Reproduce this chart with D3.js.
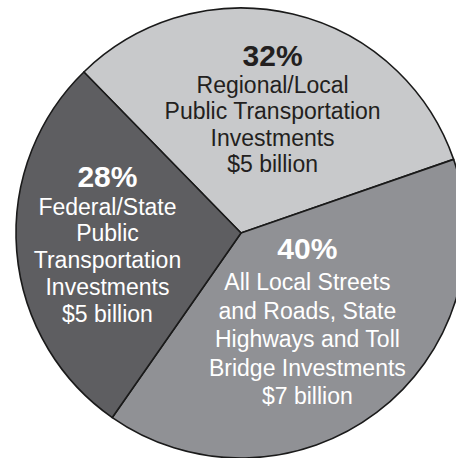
<!DOCTYPE html>
<html>
<head>
<meta charset="utf-8">
<script src="https://cdn.jsdelivr.net/npm/d3@7"></script>
<style>
  body { margin: 0; background: #fff; }
  svg { display: block; }
  text { font-family: "Liberation Sans", Arial, sans-serif; }
</style>
</head>
<body>
<svg id="pie" width="456" height="458"></svg>
<script>
// chart data
const shares = [32, 40, 28];
const amounts = ["$5 billion", "$7 billion", "$5 billion"];
const descriptions = [
    ["Regional/Local", "Public Transportation", "Investments"],
    ["All Local Streets", "and Roads, State", "Highways and Toll", "Bridge Investments"],
    ["Federal/State", "Public", "Transportation", "Investments"]
];

const fills = ["#c8c9cb", "#909195", "#5e5e61"];
const textColors = ["#231f20", "#ffffff", "#ffffff"];

const svg = d3.select("#pie");
const cx = 241, cy = 233, radius = 225;

const startA = -44.3 * Math.PI / 180;
const pie = d3.pie().sort(null).value(d => d)
    .startAngle(startA).endAngle(startA + 2 * Math.PI);
const arcs = pie(shares);

const arc = d3.arc().innerRadius(0).outerRadius(radius);

const g = svg.append("g").attr("transform", `translate(${cx},${cy})`);

g.selectAll("path.slice")
    .data(arcs)
    .join("path")
    .attr("class", "slice")
    .attr("d", arc)
    .attr("fill", (d, i) => fills[i])
    .attr("stroke", "#1a1a1a")
    .attr("stroke-width", 1.6)
    .attr("stroke-linejoin", "round");

// label placement: centroid on an inner ring, small nudges, line spacing
const labelRadius = [120, 120, 136];
const nudge = [[4, 3], [-6, 3], [2, 10]];
const lineHeight = [26.6, 28.4, 26.8];
const pctGap = [26.5, 31, 28];

arcs.forEach((a, i) => {
    const c = d3.arc().innerRadius(labelRadius[i]).outerRadius(labelRadius[i]).centroid(a);
    const lines = descriptions[i].concat([amounts[i]]);
    const total = pctGap[i] + (lines.length - 1) * lineHeight[i];
    const x = c[0] + nudge[i][0];
    const top = c[1] + nudge[i][1] - total / 2;

    const t = g.append("text")
        .attr("text-anchor", "middle")
        .attr("fill", textColors[i]);

    t.append("tspan")
        .attr("x", x)
        .attr("y", top)
        .attr("font-size", 30)
        .attr("font-weight", "bold")
        .text(shares[i] + "%");

    lines.forEach((ln, j) => {
        t.append("tspan")
            .attr("x", x)
            .attr("y", top + pctGap[i] + j * lineHeight[i])
            .attr("font-size", 23)
            .text(ln);
    });
});
</script>
</body>
</html>
